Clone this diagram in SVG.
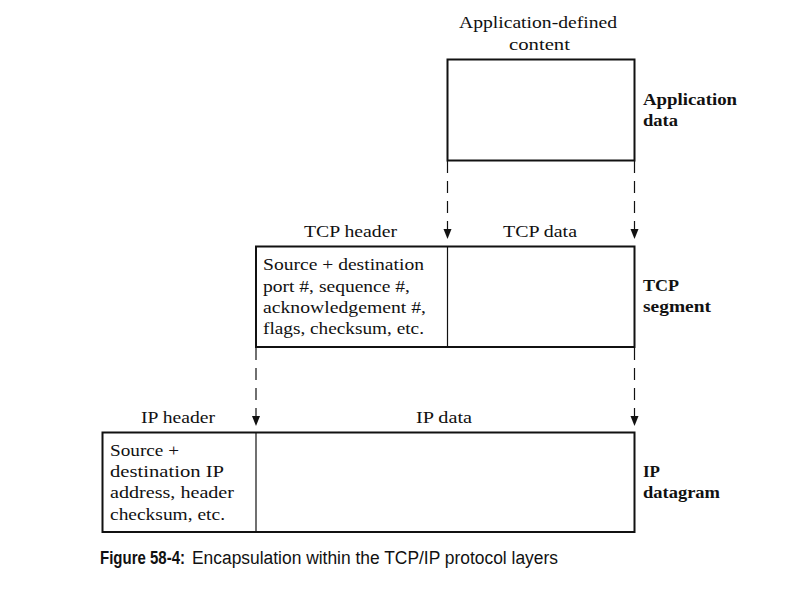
<svg xmlns="http://www.w3.org/2000/svg" width="802" height="597" viewBox="0 0 802 597">
<style>
text{font-family:"Liberation Serif","Times New Roman",serif;font-size:17px;fill:#111}
.b{font-weight:bold}
.c{text-anchor:middle}
.box{fill:none;stroke:#111;stroke-width:2}
.div{stroke:#111;stroke-width:1.2}
.dash{stroke:#111;stroke-width:1.2;stroke-dasharray:12 8;fill:none}
.cap{font-family:"Liberation Sans","Arial",sans-serif;font-size:18px}
</style>
<rect width="802" height="597" fill="#fff"/>
<g id="connectors">
<line class="dash" x1="447.5" y1="161" x2="447.5" y2="229"/>
<path d="M443.5,229 L451.5,229 L447.5,239 Z" fill="#111"/>
<line class="dash" x1="634.5" y1="161" x2="634.5" y2="229"/>
<path d="M630.5,229 L638.5,229 L634.5,239 Z" fill="#111"/>
<line class="dash" x1="256" y1="348" x2="256" y2="416"/>
<path d="M252,416 L260,416 L256,426 Z" fill="#111"/>
<line class="dash" x1="634.5" y1="348" x2="634.5" y2="416"/>
<path d="M630.5,416 L638.5,416 L634.5,426 Z" fill="#111"/>
</g>
<g id="app">
<text class="c" x="538" y="28" textLength="158" lengthAdjust="spacingAndGlyphs">Application-defined</text>
<text class="c" x="539.5" y="50" textLength="61" lengthAdjust="spacingAndGlyphs">content</text>
<rect class="box" x="447.5" y="59.5" width="187" height="101"/>
<text class="b" x="643" y="105" textLength="94" lengthAdjust="spacingAndGlyphs">Application</text>
<text class="b" x="643" y="126" textLength="35" lengthAdjust="spacingAndGlyphs">data</text>
</g>
<g id="tcp">
<text class="c" x="350.5" y="237" textLength="93" lengthAdjust="spacingAndGlyphs">TCP header</text>
<text class="c" x="540" y="237" textLength="74" lengthAdjust="spacingAndGlyphs">TCP data</text>
<rect class="box" x="256" y="246.5" width="378.5" height="100.5"/>
<line class="div" x1="447.5" y1="246.5" x2="447.5" y2="347"/>
<text x="263" y="270" textLength="161" lengthAdjust="spacingAndGlyphs">Source + destination</text>
<text x="263" y="292" textLength="147" lengthAdjust="spacingAndGlyphs">port #, sequence #,</text>
<text x="263" y="313" textLength="163" lengthAdjust="spacingAndGlyphs">acknowledgement #,</text>
<text x="263" y="334" textLength="161" lengthAdjust="spacingAndGlyphs">flags, checksum, etc.</text>
<text class="b" x="643" y="291" textLength="36" lengthAdjust="spacingAndGlyphs">TCP</text>
<text class="b" x="643" y="312" textLength="68" lengthAdjust="spacingAndGlyphs">segment</text>
</g>
<g id="ip">
<text class="c" x="178" y="423" textLength="74" lengthAdjust="spacingAndGlyphs">IP header</text>
<text class="c" x="444" y="423" textLength="56" lengthAdjust="spacingAndGlyphs">IP data</text>
<rect class="box" x="102.5" y="432.5" width="532" height="99.5"/>
<line class="div" x1="256" y1="432.5" x2="256" y2="532"/>
<text x="110" y="456" textLength="69" lengthAdjust="spacingAndGlyphs">Source +</text>
<text x="110" y="477" textLength="114" lengthAdjust="spacingAndGlyphs">destination IP</text>
<text x="110" y="498" textLength="124" lengthAdjust="spacingAndGlyphs">address, header</text>
<text x="110" y="520" textLength="115" lengthAdjust="spacingAndGlyphs">checksum, etc.</text>
<text class="b" x="643" y="477" textLength="17" lengthAdjust="spacingAndGlyphs">IP</text>
<text class="b" x="643" y="498" textLength="77" lengthAdjust="spacingAndGlyphs">datagram</text>
</g>
<g id="caption">
<text class="cap b" x="100" y="564" textLength="85" lengthAdjust="spacingAndGlyphs">Figure 58-4:</text>
<text class="cap" x="192" y="564" textLength="366" lengthAdjust="spacingAndGlyphs">Encapsulation within the TCP/IP protocol layers</text>
</g>
</svg>
